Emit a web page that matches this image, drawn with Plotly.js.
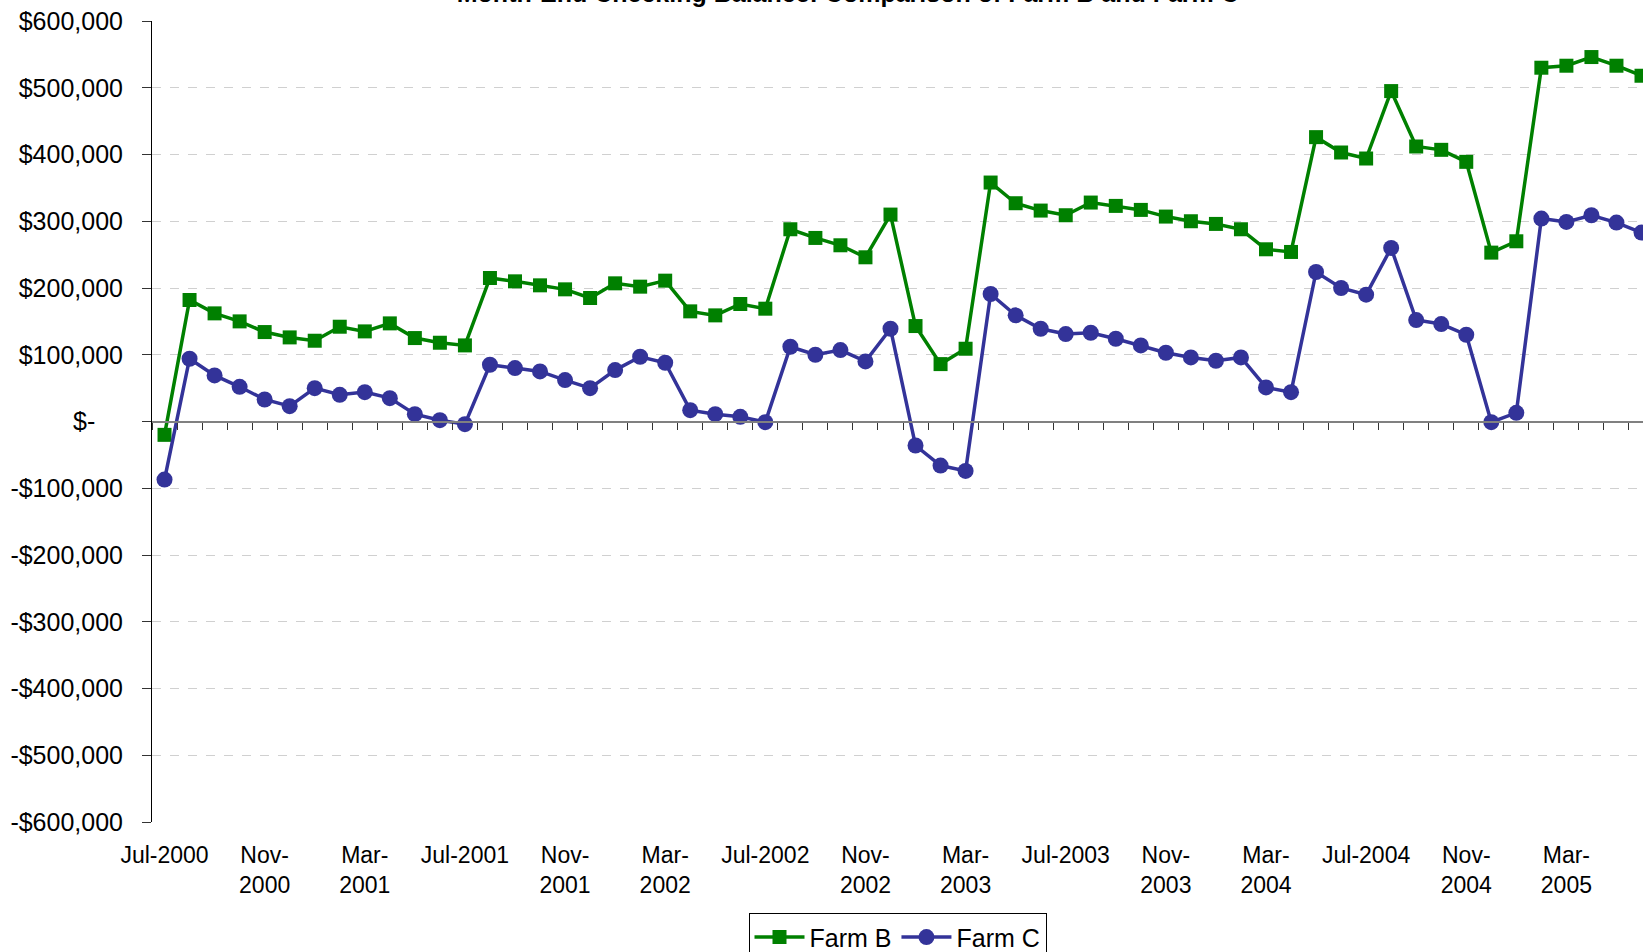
<!DOCTYPE html>
<html>
<head>
<meta charset="utf-8">
<script src="https://cdn.plot.ly/plotly-3.0.1.min.js"></script>
<style>
  html, body { margin: 0; padding: 0; background: #fff; overflow: hidden; }
  #chart { width: 1643px; height: 952px; }
</style>
</head>
<body>
<div id="chart"></div>
<script>
const months = [
  "Jul-2000","Aug-2000","Sep-2000","Oct-2000","Nov-2000","Dec-2000",
  "Jan-2001","Feb-2001","Mar-2001","Apr-2001","May-2001","Jun-2001",
  "Jul-2001","Aug-2001","Sep-2001","Oct-2001","Nov-2001","Dec-2001",
  "Jan-2002","Feb-2002","Mar-2002","Apr-2002","May-2002","Jun-2002",
  "Jul-2002","Aug-2002","Sep-2002","Oct-2002","Nov-2002","Dec-2002",
  "Jan-2003","Feb-2003","Mar-2003","Apr-2003","May-2003","Jun-2003",
  "Jul-2003","Aug-2003","Sep-2003","Oct-2003","Nov-2003","Dec-2003",
  "Jan-2004","Feb-2004","Mar-2004","Apr-2004","May-2004","Jun-2004",
  "Jul-2004","Aug-2004","Sep-2004","Oct-2004","Nov-2004","Dec-2004",
  "Jan-2005","Feb-2005","Mar-2005","Apr-2005","May-2005","Jun-2005"
];

const farmB = [
  -20000, 182000, 162000, 150000, 134000, 126000,
  121000, 142000, 135000, 147000, 125000, 118000,
  114000, 215000, 210000, 204000, 198000, 185000,
  207000, 202000, 211000, 165000, 159000, 176000,
  169000, 288000, 275000, 264000, 246000, 310000,
  143000, 86000, 109000, 358000, 327000, 316000,
  309000, 328000, 323000, 317000, 307000, 300000,
  296000, 288000, 258000, 254000, 426000, 403000,
  394000, 495000, 412000, 407000, 389000, 253000,
  270000, 530000, 533000, 546000, 533000, 518000
];

const farmC = [
  -87000, 94000, 69000, 52000, 33000, 23000,
  50000, 40000, 44000, 35000, 11000, 2000,
  -4000, 85000, 80000, 75000, 62000, 50000,
  77000, 97000, 88000, 17000, 11000, 7000,
  -1000, 112000, 100000, 107000, 90000, 139000,
  -36000, -66000, -74000, 191000, 159000, 139000,
  131000, 133000, 124000, 114000, 103000, 96000,
  91000, 96000, 51000, 44000, 224000, 200000,
  190000, 260000, 152000, 146000, 130000, -1000,
  13000, 304000, 299000, 309000, 298000, 283000
];

const xTickVals = ["Jul-2000","Nov-2000","Mar-2001","Jul-2001","Nov-2001","Mar-2002",
  "Jul-2002","Nov-2002","Mar-2003","Jul-2003","Nov-2003","Mar-2004",
  "Jul-2004","Nov-2004","Mar-2005"];
const xTickText = ["Jul-2000","Nov-<br>2000","Mar-<br>2001","Jul-2001","Nov-<br>2001","Mar-<br>2002",
  "Jul-2002","Nov-<br>2002","Mar-<br>2003","Jul-2003","Nov-<br>2003","Mar-<br>2004",
  "Jul-2004","Nov-<br>2004","Mar-<br>2005"];

const yTickVals = [600000,500000,400000,300000,200000,100000,0,
  -100000,-200000,-300000,-400000,-500000,-600000];
const yTickText = ["$600,000","$500,000","$400,000","$300,000","$200,000","$100,000",
  "$-\u00a0\u00a0\u00a0\u00a0",
  "-$100,000","-$200,000","-$300,000","-$400,000","-$500,000","-$600,000"];

const titleText = "Month-End Checking Balance: Comparison of Farm B and Farm C";

const FONT = "Arial, 'Liberation Sans', sans-serif";
const xRange = [-0.5, 59.06];

const traces = [
  {
    x: months, y: farmB, name: "Farm B", type: "scatter", mode: "lines+markers",
    line: {color: "#008000", width: 3.5},
    marker: {symbol: "square", size: 14, color: "#008000"},
    xaxis: "x", yaxis: "y"
  },
  {
    x: months, y: farmC, name: "Farm C", type: "scatter", mode: "lines+markers",
    line: {color: "#333399", width: 3.5},
    marker: {symbol: "circle", size: 16, color: "#333399"},
    xaxis: "x", yaxis: "y"
  },
  {
    x: [0], y: [0], type: "scatter", mode: "markers",
    marker: {opacity: 0}, showlegend: false, hoverinfo: "skip",
    xaxis: "x2", yaxis: "y"
  }
];

const layout = {
  width: 1643, height: 952,
  margin: {l: 152, r: 0, t: 21, b: 130, pad: 0, autoexpand: false},
  paper_bgcolor: "#ffffff", plot_bgcolor: "#ffffff",
  font: {family: FONT, color: "#000000", size: 23},
  showlegend: true,
  title: {
    text: titleText,
    font: {family: FONT, size: 25, color: "#000000", weight: "bold"},
    xref: "container", yref: "container",
    x: 0.516, xanchor: "center",
    y: 0.998, yanchor: "bottom",
    automargin: false
  },
  xaxis: {
    type: "category",
    range: xRange,
    tickmode: "array",
    tickvals: xTickVals,
    ticktext: xTickText,
    ticks: "", showline: false, showgrid: false, zeroline: false,
    tickfont: {family: FONT, size: 23, color: "#000000"},
    ticklabelstandoff: 17,
    automargin: false,
    fixedrange: true
  },
  xaxis2: {
    type: "linear",
    overlaying: "x",
    anchor: "free",
    position: 0.5,
    range: xRange,
    tick0: 0.5, dtick: 1,
    ticks: "outside", ticklen: 7, tickwidth: 1, tickcolor: "#333333",
    showticklabels: false,
    showline: true, linecolor: "#808080", linewidth: 2,
    showgrid: false, zeroline: false,
    automargin: false
  },
  yaxis: {
    range: [-600000, 600000],
    tickmode: "array",
    tickvals: yTickVals,
    ticktext: yTickText,
    ticks: "outside", ticklen: 9, tickwidth: 1, tickcolor: "#333333",
    showline: true, linecolor: "#000000", linewidth: 1,
    showgrid: true, gridcolor: "#d0d0d0", griddash: "dash", gridwidth: 1,
    zeroline: false,
    tickfont: {family: FONT, size: 25, color: "#000000"},
    ticklabelstandoff: 14,
    automargin: false,
    fixedrange: true
  },
  legend: {
    orientation: "h",
    x: 0.5, xanchor: "center",
    y: -0.114, yanchor: "top",
    bordercolor: "#000000", borderwidth: 1, bgcolor: "#ffffff",
    font: {family: FONT, size: 25, color: "#000000"},
    itemwidth: 50
  }
};

Plotly.newPlot("chart", traces, layout, {displayModeBar: false, staticPlot: true});
</script>
</body>
</html>
